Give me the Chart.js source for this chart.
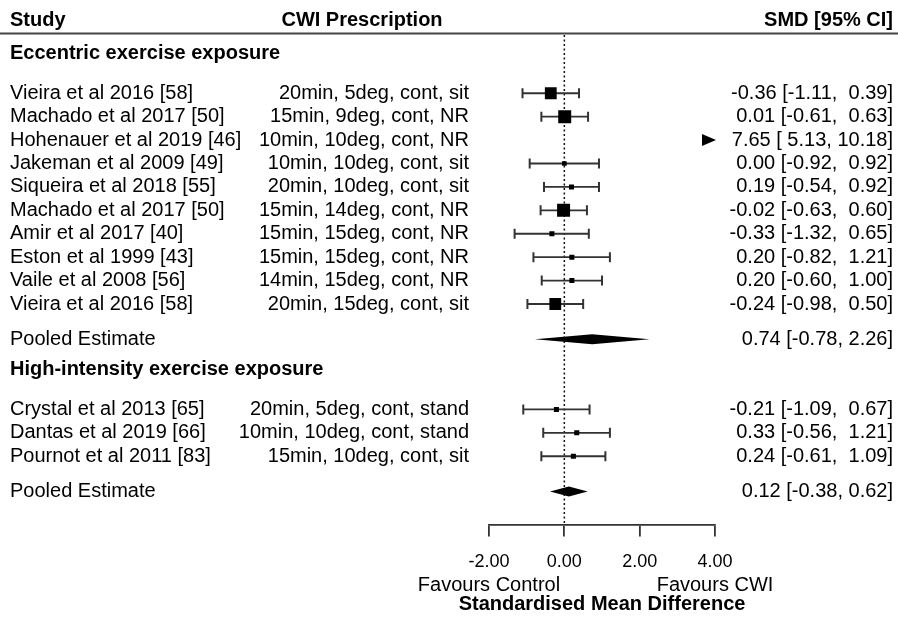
<!DOCTYPE html>
<html>
<head>
<meta charset="utf-8">
<script src="https://cdn.jsdelivr.net/npm/chart.js@4"></script>
<style>
  body { margin: 0; background: #fff; }
  canvas { display: block; }
</style>
</head>
<body>
<canvas id="forest" width="898" height="618"></canvas>
<script>
// eccentric exercise group
const studies1 = ['Vieira et al 2016 [58]', 'Machado et al 2017 [50]', 'Hohenauer et al 2019 [46]', 'Jakeman et al 2009 [49]',
  'Siqueira et al 2018 [55]', 'Machado et al 2017 [50]', 'Amir et al 2017 [40]', 'Eston et al 1999 [43]',
  'Vaile et al 2008 [56]', 'Vieira et al 2016 [58]']
const presc1 = ['20min, 5deg, cont, sit', '15min, 9deg, cont, NR', '10min, 10deg, cont, NR', '10min, 10deg, cont, sit',
  '20min, 10deg, cont, sit', '15min, 14deg, cont, NR', '15min, 15deg, cont, NR', '15min, 15deg, cont, NR',
  '14min, 15deg, cont, NR', '20min, 15deg, cont, sit']
const smd1 = [-0.36, 0.01, 7.65, 0.00, 0.19, -0.02, -0.33, 0.20, 0.20, -0.24]
const lo1 = [-1.11, -0.61, 5.13, -0.92, -0.54, -0.63, -1.32, -0.82, -0.60, -0.98]
const hi1 = [0.39, 0.63, 10.18, 0.92, 0.92, 0.60, 0.65, 1.21, 1.00, 0.50]
const weights1 = [20, 22, 5, 8, 8.5, 22, 8.5, 8.5, 8.5, 20]
const pooled1 = [0.74, -0.78, 2.26]

// high-intensity exercise group
const studies2 = ['Crystal et al 2013 [65]', 'Dantas et al 2019 [66]', 'Pournot et al 2011 [83]']
const presc2 = ['20min, 5deg, cont, stand', '10min, 10deg, cont, stand', '15min, 10deg, cont, sit']
const smd2 = [-0.21, 0.33, 0.24]
const lo2 = [-1.09, -0.56, -0.61]
const hi2 = [0.67, 1.21, 1.09]
const weights2 = [8.5, 8.5, 8.5]
const pooled2 = [0.12, -0.38, 0.62]

const groupNames = ['Eccentric exercise exposure', 'High-intensity exercise exposure']
const headers = ['Study', 'CWI Prescription', 'SMD [95% CI]']
const xTicks = [-2, 0, 2, 4]
const xMin = -2, xMax = 4

const FONT = "'Liberation Sans', Arial, Helvetica, sans-serif"
Chart.defaults.font.family = FONT

// build rows (y in row units, top to bottom)
const groups = [
  {name: groupNames[0], studies: studies1, presc: presc1, smd: smd1, lo: lo1, hi: hi1, w: weights1, pooled: pooled1},
  {name: groupNames[1], studies: studies2, presc: presc2, smd: smd2, lo: lo2, hi: hi2, w: weights2, pooled: pooled2}
]
let cursor = -1.7
groups.forEach(g => {
  g.headerY = cursor
  g.rowY = g.studies.map((s, i) => cursor + 1.7 + i)
  g.pooledY = cursor + 1.7 + g.studies.length - 1 + 1.5
  cursor = g.pooledY + 1.3
})

const fmt = (v, pad) => pad ? v.toFixed(2).padStart(5, ' ') : v.toFixed(2)
const ciText = (e, l, h, pad) => e.toFixed(2) + ' [' + fmt(l, pad) + ', ' + fmt(h, pad) + ']'

const squares = [], sizes = [], whisk = [], caps = []
groups.forEach(g => {
  g.studies.forEach((s, i) => {
    if (g.lo[i] > xMax || g.hi[i] < xMin) return
    squares.push({x: g.smd[i], y: g.rowY[i]})
    sizes.push(g.w[i] * 0.59 / Math.SQRT2)
    whisk.push({x: g.lo[i], y: g.rowY[i]}, {x: g.hi[i], y: g.rowY[i]}, {x: null, y: null})
    caps.push({x: g.lo[i], y: g.rowY[i]}, {x: g.hi[i], y: g.rowY[i]})
  })
})

const forestText = {
  id: 'forestText',
  beforeDatasetsDraw(chart) {
    const {ctx, chartArea, scales: {x}} = chart
    ctx.save()
    ctx.strokeStyle = '#111'
    ctx.lineWidth = 1.5
    ctx.setLineDash([2, 2.5])
    ctx.beginPath()
    ctx.moveTo(x.getPixelForValue(0), chartArea.top + 1)
    ctx.lineTo(x.getPixelForValue(0), chartArea.bottom)
    ctx.stroke()
    ctx.restore()
  },
  afterDraw(chart) {
    const {ctx, chartArea, scales: {x, y}} = chart
    ctx.save()
    ctx.fillStyle = '#000'
    ctx.textBaseline = 'middle'

    // header
    ctx.strokeStyle = '#444'
    ctx.lineWidth = 2
    ctx.beginPath()
    ctx.moveTo(0, chartArea.top - 0.5)
    ctx.lineTo(898, chartArea.top - 0.5)
    ctx.stroke()
    const hy = y.getPixelForValue(-3.1)
    ctx.font = 'bold 20px ' + FONT
    ctx.textAlign = 'left'
    ctx.fillText(headers[0], 10, hy)
    ctx.textAlign = 'center'
    ctx.fillText(headers[1], 362, hy)
    ctx.textAlign = 'right'
    ctx.fillText(headers[2], 893, hy)

    groups.forEach(g => {
      ctx.font = 'bold 20px ' + FONT
      ctx.textAlign = 'left'
      ctx.fillText(g.name, 10, y.getPixelForValue(g.headerY))
      ctx.font = '20px ' + FONT
      g.studies.forEach((s, i) => {
        const py = y.getPixelForValue(g.rowY[i])
        ctx.textAlign = 'left'
        ctx.fillText(s, 10, py)
        ctx.textAlign = 'right'
        ctx.fillText(g.presc[i], 469, py)
        ctx.fillText(ciText(g.smd[i], g.lo[i], g.hi[i], true), 893, py)
        if (g.lo[i] > xMax) {
          // off-scale estimate: arrow at the right edge
          const tip = x.getPixelForValue(xMax) + 1
          ctx.beginPath()
          ctx.moveTo(tip, py)
          ctx.lineTo(tip - 14, py - 6)
          ctx.lineTo(tip - 14, py + 6)
          ctx.closePath()
          ctx.fill()
        }
      })
      const py = y.getPixelForValue(g.pooledY)
      ctx.textAlign = 'left'
      ctx.fillText('Pooled Estimate', 10, py)
      ctx.textAlign = 'right'
      ctx.fillText(ciText(g.pooled[0], g.pooled[1], g.pooled[2], false), 893, py)
      ctx.beginPath()
      ctx.moveTo(x.getPixelForValue(g.pooled[1]), py)
      ctx.lineTo(x.getPixelForValue(g.pooled[0]), py - 5)
      ctx.lineTo(x.getPixelForValue(g.pooled[2]), py)
      ctx.lineTo(x.getPixelForValue(g.pooled[0]), py + 5)
      ctx.closePath()
      ctx.fill()
    })

    // axis annotations
    ctx.font = '20px ' + FONT
    ctx.textAlign = 'center'
    ctx.fillText('Favours Control', x.getPixelForValue(xMin), 585.5)
    ctx.fillText('Favours CWI', x.getPixelForValue(xMax), 585.5)
    ctx.font = 'bold 20px ' + FONT
    ctx.fillText('Standardised Mean Difference', (chartArea.left + chartArea.right) / 2, 604)
    ctx.restore()
  }
}

new Chart(document.getElementById('forest'), {
  type: 'scatter',
  data: {
    datasets: [
      {
        data: squares,
        pointStyle: 'rect',
        pointRadius: sizes,
        backgroundColor: '#000',
        borderWidth: 0,
        order: 0
      },
      {
        data: caps,
        pointStyle: 'line',
        rotation: 90,
        pointRadius: 5,
        borderColor: '#333',
        borderWidth: 2,
        order: 1
      },
      {
        data: whisk,
        showLine: true,
        spanGaps: false,
        pointRadius: 0,
        borderColor: '#333',
        borderWidth: 1.8,
        order: 2
      }
    ]
  },
  options: {
    responsive: false,
    animation: false,
    events: [],
    layout: {padding: {top: 34, bottom: 30, left: 489, right: 183}},
    plugins: {
      legend: {display: false},
      tooltip: {enabled: false}
    },
    scales: {
      x: {
        type: 'linear',
        min: xMin,
        max: xMax,
        afterBuildTicks: (scale) => { scale.ticks = xTicks.map(v => ({value: v})) },
        ticks: {
          padding: 15,
          color: '#000',
          font: {size: 18},
          callback: (v) => v.toFixed(2)
        },
        grid: {drawOnChartArea: false, tickLength: 12, color: '#333', lineWidth: 1.8},
        border: {display: true, color: '#333', width: 1.8}
      },
      y: {
        type: 'linear',
        display: false,
        reverse: true,
        min: -2.53,
        max: 18.41
      }
    }
  },
  plugins: [forestText]
})
</script>
</body>
</html>
